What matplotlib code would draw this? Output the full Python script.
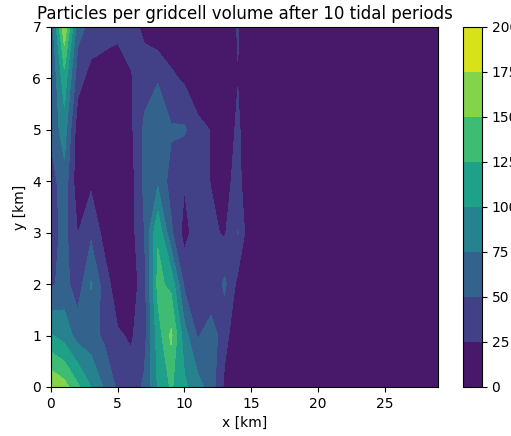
import numpy as np
import matplotlib
matplotlib.use("Agg")
import matplotlib.pyplot as plt

# grid coordinates (km)
x_km = np.arange(0, 30)
y_km = np.arange(0, 8)

levels = [0, 25, 50, 75, 100, 125, 150, 175, 200]
cbar_ticks = [0, 25, 50, 75, 100, 125, 150, 175, 200]

# particles per gridcell volume, one row per y (km), columns x = 0..29 km
row_y0 = [173, 160, 130, 100, 72, 45, 35, 55, 102, 128, 105, 85, 62, 20, 0, 0,
          0, 0, 0, 0, 0, 0, 0, 0, 0, 0, 0, 0, 0, 0]
row_y1 = [102, 90, 65, 60, 45, 28, 22, 40, 112, 155, 85, 47, 67, 32, 10, 0,
          0, 0, 0, 0, 0, 0, 0, 0, 0, 0, 0, 0, 0, 0]
row_y2 = [45, 60, 35, 77, 37, 10, 10, 40, 132, 118, 45, 35, 24, 55, 18, 0,
          0, 0, 0, 0, 0, 0, 0, 0, 0, 0, 0, 0, 0, 0]
row_y3 = [38, 58, 24, 45, 16, 8, 15, 50, 122, 55, 15, 40, 30, 22, 51, 0,
          0, 0, 0, 0, 0, 0, 0, 0, 0, 0, 0, 0, 0, 0]
row_y4 = [38, 65, 8, 20, 10, 8, 15, 56, 70, 40, 27, 35, 24, 18, 32, 5,
          0, 0, 0, 0, 0, 0, 0, 0, 0, 0, 0, 0, 0, 0]
row_y5 = [55, 88, 10, 8, 8, 8, 20, 55, 68, 53, 53, 32, 24, 8, 30, 0,
          0, 0, 0, 0, 0, 0, 0, 0, 0, 0, 0, 0, 0, 0]
row_y6 = [48, 115, 35, 15, 12, 10, 23, 40, 48, 30, 21, 8, 5, 5, 24, 0,
          0, 0, 0, 0, 0, 0, 0, 0, 0, 0, 0, 0, 0, 0]
row_y7 = [55, 170, 60, 42, 36, 32, 35, 18, 5, 5, 5, 5, 5, 5, 27, 0,
          0, 0, 0, 0, 0, 0, 0, 0, 0, 0, 0, 0, 0, 0]

density = np.array([row_y0, row_y1, row_y2, row_y3,
                    row_y4, row_y5, row_y6, row_y7], dtype=float)

fig = plt.figure(figsize=(5.11, 4.36), dpi=100)
ax = fig.add_axes([0.0998, 0.1124, 0.7573, 0.8257])
cax = fig.add_axes([0.906, 0.1124, 0.037, 0.8257])

X, Y = np.meshgrid(x_km, y_km)
cs = ax.contourf(X, Y, density, levels=levels, cmap="viridis")
ax.set_xlim(0, 29)
ax.set_ylim(0, 7)
ax.set_xlabel("x [km]")
ax.set_ylabel("y [km]")
ax.set_title("Particles per gridcell volume after 10 tidal periods")

cb = fig.colorbar(cs, cax=cax, ticks=cbar_ticks)

fig.savefig("out.png", dpi=100)
